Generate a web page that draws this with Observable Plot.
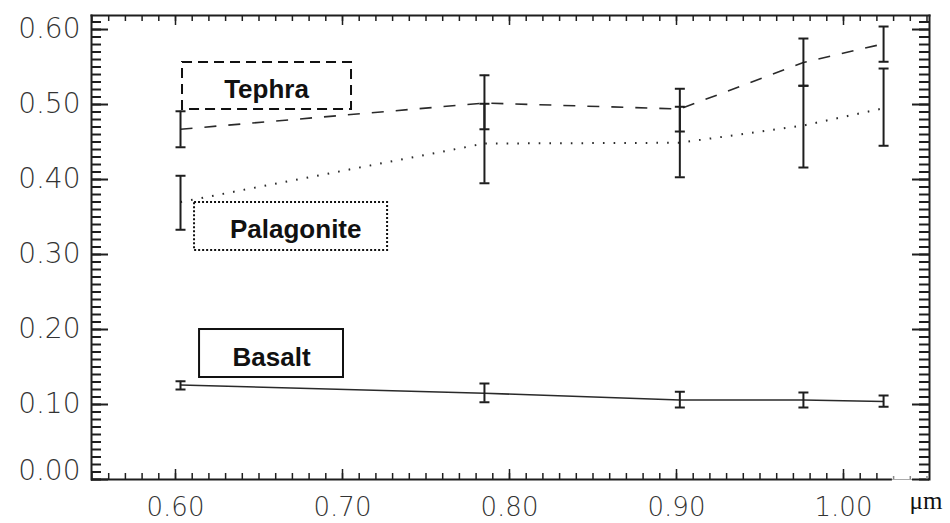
<!DOCTYPE html>
<html><head><meta charset="utf-8">
<script src="https://cdn.jsdelivr.net/npm/d3@7"></script>
<script src="https://cdn.jsdelivr.net/npm/@observablehq/plot@0.6"></script>
<style>body{margin:0;background:#fff}</style>
</head><body><div id="chart"></div>
<script>
// ---- data ----
const wavelengths = [0.603, 0.785, 0.902, 0.976, 1.024];

const tephraY  = [0.467, 0.502, 0.494, 0.556, 0.581];
const tephraLo = [0.443, 0.467, 0.464, 0.525, 0.557];
const tephraHi = [0.491, 0.539, 0.521, 0.588, 0.604];

const palagoniteY  = [0.370, 0.448, 0.449, 0.472, 0.495];
const palagoniteLo = [0.333, 0.395, 0.403, 0.416, 0.445];
const palagoniteHi = [0.405, 0.501, 0.497, 0.525, 0.548];

const basaltY  = [0.126, 0.115, 0.106, 0.106, 0.104];
const basaltLo = [0.120, 0.103, 0.096, 0.096, 0.097];
const basaltHi = [0.131, 0.128, 0.117, 0.116, 0.112];

const xTickLabels = [0.60, 0.70, 0.80, 0.90, 1.00];
const yTickLabels = [0.00, 0.10, 0.20, 0.30, 0.40, 0.50, 0.60];
const xUnit = "μm";

// label boxes (annotation anchors in data units)
const labelNames = ["Tephra", "Palagonite", "Basalt"];
const labelBoxX1 = [0.6042, 0.6114, 0.6144];
const labelBoxX2 = [0.7054, 0.7270, 0.7006];
const labelBoxY1 = [0.4933, 0.3053, 0.1360];
const labelBoxY2 = [0.5560, 0.3693, 0.2000];
const labelTextX = [0.6545, 0.6720, 0.6575];
const labelTextY = [0.5204, 0.3337, 0.1631];

// ---- build tables ----
const seriesDefs = [
  {name: "Tephra", y: tephraY, lo: tephraLo, hi: tephraHi, dash: "12,12", width: 1.6, box: "10,6"},
  {name: "Palagonite", y: palagoniteY, lo: palagoniteLo, hi: palagoniteHi, dash: "1.6,9.1", width: 2, box: "2,2"},
  {name: "Basalt", y: basaltY, lo: basaltLo, hi: basaltHi, dash: null, width: 1.6, box: null}
];
const rows = seriesDefs.flatMap(s => wavelengths.map((x, i) => ({series: s.name, x, y: s.y[i], lo: s.lo[i], hi: s.hi[i]})));
const labels = labelNames.map((t, i) => ({
  text: t, x1: labelBoxX1[i], x2: labelBoxX2[i], y1: labelBoxY1[i], y2: labelBoxY2[i],
  tx: labelTextX[i], ty: labelTextY[i], dash: seriesDefs[i].box
}));

const xDomain = [0.5497, 1.0515];
const yDomain = [0, 0.6187];
const W = 950, H = 523, mL = 91, mR = 21, mT = 15, mB = 44;
const pw = W - mL - mR, ph = H - mT - mB;
const xBreak = 1.0293;

const yMinor = d3.range(0, 62).map(i => i / 100);
const yMajor = d3.range(0, 7).map(i => i / 10);
const xMinor = d3.range(55, 106).map(i => i / 100);
const xMajor = d3.range(6, 11).map(i => i / 10);

const capSymbol = {draw(ctx, size) { const w = Math.sqrt(size / Math.PI); ctx.moveTo(-w, 0); ctx.lineTo(w, 0); }};
const ink = "#1e1e1e";

const marks = [
  ...seriesDefs.map(s => Plot.line(rows.filter(r => r.series === s.name), {
    x: "x", y: "y", stroke: "#2a2a2a", strokeWidth: s.width,
    strokeDasharray: s.dash ?? undefined, strokeLinecap: "butt"
  })),
  Plot.ruleX(rows, {x: "x", y1: "lo", y2: "hi", stroke: ink, strokeWidth: 2}),
  Plot.dot(rows, {x: "x", y: "lo", symbol: capSymbol, r: 5, stroke: ink, strokeWidth: 2, fill: "none"}),
  Plot.dot(rows, {x: "x", y: "hi", symbol: capSymbol, r: 5, stroke: ink, strokeWidth: 2, fill: "none"}),
  ...labels.map(l => Plot.rect([l], {x1: "x1", x2: "x2", y1: "y1", y2: "y2", fill: "white", stroke: "#111", strokeWidth: 2, strokeDasharray: l.dash ?? undefined})),
  Plot.text(labels, {x: "tx", y: "ty", text: "text", fontSize: 26, fontWeight: "bold", fontFamily: "Liberation Sans, Arial, sans-serif", fill: "#111"}),
  Plot.frame({anchor: "left", stroke: ink, strokeWidth: 2}),
  Plot.frame({anchor: "top", stroke: ink, strokeWidth: 2}),
  Plot.frame({anchor: "right", stroke: ink, strokeWidth: 2}),
  Plot.ruleY([0], {x1: xDomain[0], x2: xBreak, stroke: ink, strokeWidth: 2}),
  Plot.ruleY([0], {x1: xBreak, x2: xDomain[1], stroke: "#aaa", strokeWidth: 1}),
  Plot.tickY(yMinor, {y: d => d, insetRight: pw - 10, stroke: ink, strokeWidth: 2}),
  Plot.tickY(yMajor, {y: d => d, insetRight: pw - 17, stroke: ink, strokeWidth: 2}),
  Plot.tickY(yMinor, {y: d => d, insetLeft: pw - 10, stroke: ink, strokeWidth: 2}),
  Plot.tickY(yMajor, {y: d => d, insetLeft: pw - 17, stroke: ink, strokeWidth: 2}),
  Plot.tickX(xMinor.filter(d => d < xBreak), {x: d => d, insetTop: ph - 6, stroke: ink, strokeWidth: 1.5}),
  Plot.tickX(xMinor.filter(d => d > xBreak), {x: d => d, insetTop: ph - 3, stroke: "#888", strokeWidth: 1.5}),
  Plot.tickX(xMajor, {x: d => d, insetTop: ph - 10, stroke: ink, strokeWidth: 1.5}),
  Plot.tickX(xMinor, {x: d => d, insetBottom: ph - 6, stroke: ink, strokeWidth: 1.5}),
  Plot.tickX(xMajor, {x: d => d, insetBottom: ph - 10, stroke: ink, strokeWidth: 1.5}),
  Plot.axisY(yTickLabels.filter(d => d > 0), {anchor: "left", tickSize: 0, tickPadding: 11, tickFormat: d3.format(".2f"), fontSize: 28, label: null}),
  Plot.axisY([0], {anchor: "left", tickSize: 0, tickPadding: 11, tickFormat: d3.format(".2f"), fontSize: 28, label: null, dy: -8}),
  Plot.axisX(xTickLabels, {anchor: "bottom", tickSize: 0, tickPadding: 18, tickFormat: d3.format(".2f"), fontSize: 26, label: null}),
  Plot.text([xUnit], {frameAnchor: "bottom-right", text: d => d, dx: -20, dy: 29, textAnchor: "start", fontSize: 25, fontFamily: "Liberation Serif, Times New Roman, serif", fill: "#111"})
];

const chart = Plot.plot({
  width: W, height: H,
  marginLeft: mL, marginRight: mR, marginTop: mT, marginBottom: mB,
  x: {domain: xDomain, axis: null},
  y: {domain: yDomain, axis: null},
  style: {fontFamily: "DejaVu Sans, sans-serif", fontWeight: 200, color: "#333", background: "white", overflow: "visible"},
  marks
});
document.getElementById("chart").appendChild(chart);
</script>
</body></html>
